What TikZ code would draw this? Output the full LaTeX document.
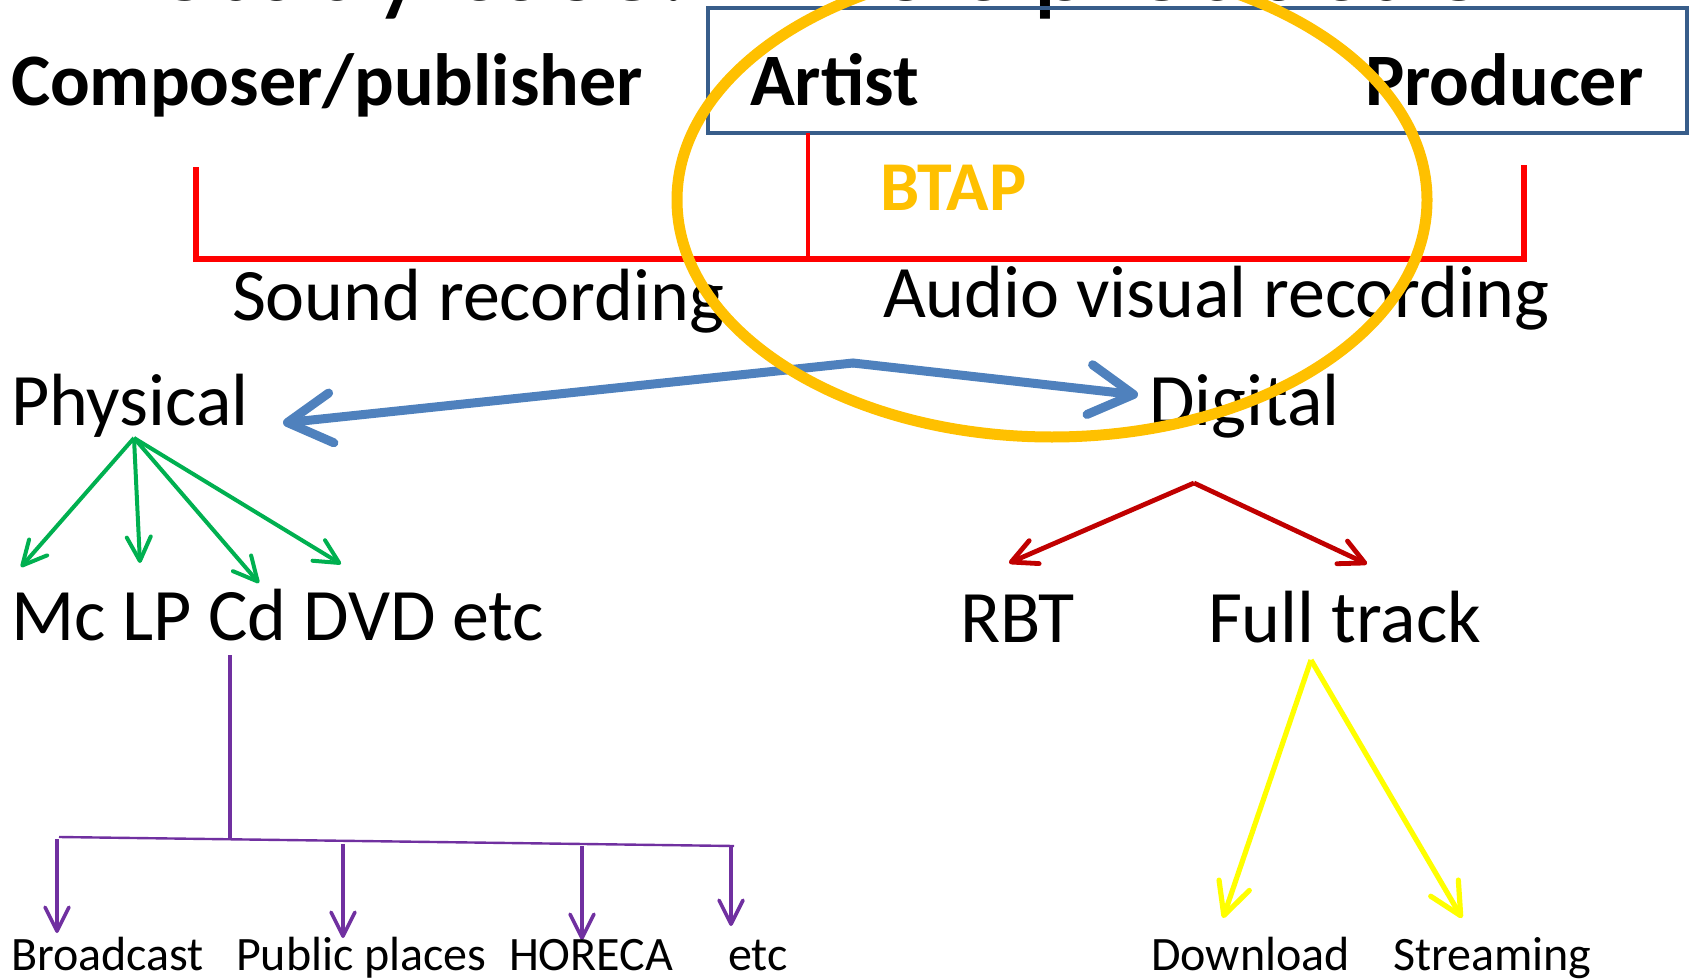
\documentclass[tikz,border=0pt]{standalone}
\usepackage{fontspec}
\setmainfont{Carlito}
\usetikzlibrary{arrows.meta}

\definecolor{boxblue}{HTML}{385D8A}
\definecolor{brred}{HTML}{FF0000}
\definecolor{flowblue}{HTML}{4F81BD}
\definecolor{phgreen}{HTML}{00B050}
\definecolor{usepurple}{HTML}{7030A0}
\definecolor{digred}{HTML}{C00000}
\definecolor{trkyellow}{HTML}{FFFF00}
\definecolor{ringorange}{HTML}{FFC000}

\tikzset{
  lbl/.style={anchor=base west, inner sep=0pt, outer sep=0pt},
  bigtxt/.style={lbl, font=\fontsize{37}{44}\selectfont},
  bigbold/.style={lbl, font=\fontsize{37}{44}\selectfont\bfseries},
  smalltxt/.style={lbl, font=\fontsize{24}{29}\selectfont},
  barb/.style={-{Straight Barb[length=#1, width=#1, round]}},
  flowarrow/.style={draw=flowblue, line width=4.5pt, line cap=round,
     -{Straight Barb[length=22pt, width=25pt, round]}},
  greenarrow/.style={draw=phgreen, line width=2pt, barb=12pt},
  purplearrow/.style={draw=usepurple, line width=1.8pt, barb=12pt},
  redarrow/.style={draw=digred, line width=2.4pt, barb=12.5pt},
  yellowarrow/.style={draw=trkyellow, line width=2.6pt,
     -{Straight Barb[length=16pt, width=16pt, round]}},
}

\begin{document}
\begin{tikzpicture}[x=0.5pt, y=-0.5pt]
\useasboundingbox (0,0) rectangle (1692,979);

% heading, mostly above the page edge
\node[anchor=base, inner sep=0pt, font=\fontsize{58}{67}\selectfont]
  (title) at (855,1) {Study case: Music production};

% right-holders frame
\draw[boxblue, line width=2pt] (708,8) rectangle (1687,133);

% right-holders
\node[bigbold] (composer) at (11,105) {Composer/publisher};
\node[bigbold] (artist) at (750,105) {Artist};
\node[bigbold] (producer) at (1365,105) {Producer};
\node[lbl, font=\fontsize{35}{42}\selectfont\bfseries, text=ringorange]
  (btap) at (880,210) {BTAP};

% bracket joining the holders to the recordings
\coordinate (brL) at (196,167);
\coordinate (brLb) at (196,259);
\coordinate (brRb) at (1524,259);
\coordinate (brR) at (1524,165);
\coordinate (brMt) at (808,133);
\coordinate (brMb) at (808,259);
\draw[brred, line width=2.6pt] (brL) -- (brLb) -- (brRb) -- (brR);
\draw[brred, line width=1.8pt] (brMt) -- (brMb);

\node[bigtxt] (sound) at (232,320) {Sound recording};
\node[bigtxt] (audio) at (883,317) {Audio visual recording};

% physical / digital split
\node[bigtxt] (physical) at (11,425) {Physical};
\node[bigtxt] (digital) at (1149,425) {Digital};
\coordinate (split) at (853,363);
\coordinate (physTip) at (283,423);
\coordinate (digTip) at (1138,395);
\draw[flowarrow] (split) -- (physTip);
\draw[flowarrow] (split) -- (digTip);

% physical carriers
\coordinate (phSrc) at (134,438);
\coordinate (mcTip) at (21,567);
\coordinate (lpTip) at (140,563);
\coordinate (cdTip) at (259,583);
\coordinate (dvdTip) at (341,564);
\draw[greenarrow] (phSrc) -- (mcTip);
\draw[greenarrow] (phSrc) -- (lpTip);
\draw[greenarrow] (phSrc) -- (cdTip);
\draw[greenarrow] (phSrc) -- (dvdTip);
\node[bigtxt] (media) at (11,640) {Mc LP Cd DVD etc};

% uses of physical carriers
\coordinate (useTop) at (230,655);
\coordinate (useMid) at (230,838);
\coordinate (railL) at (59,837);
\coordinate (railR) at (734,846);
\draw[usepurple, line width=1.8pt] (useTop) -- (useMid);
\draw[usepurple, line width=1.2pt] (railL) -- (railR);
\coordinate (bcTop) at (57,839);   \coordinate (bcTip) at (57,933);
\coordinate (ppTop) at (343,844);  \coordinate (ppTip) at (343,938);
\coordinate (hoTop) at (582,846);  \coordinate (hoTip) at (582,940);
\coordinate (etTop) at (731,847);  \coordinate (etTip) at (731,926);
\draw[purplearrow] (bcTop) -- (bcTip);
\draw[purplearrow] (ppTop) -- (ppTip);
\draw[purplearrow] (hoTop) -- (hoTip);
\draw[purplearrow] (etTop) -- (etTip);
\node[smalltxt] (broadcast) at (11,970) {Broadcast};
\node[smalltxt] (public) at (236,970) {Public places};
\node[smalltxt] (horeca) at (509,970) {HORECA};
\node[smalltxt] (etc) at (728,970) {etc};

% digital products
\coordinate (digSrc) at (1194,483);
\coordinate (rbtTip) at (1009,563);
\coordinate (fullTip) at (1367,564);
\draw[redarrow] (digSrc) -- (rbtTip);
\draw[redarrow] (digSrc) -- (fullTip);
\node[bigtxt] (rbt) at (960,642) {RBT};
\node[bigtxt] (full) at (1208,642) {Full track};

% full-track delivery
\coordinate (ftSrc) at (1311,660);
\coordinate (dlTip) at (1223,918);
\coordinate (stTip) at (1462,918);
\draw[yellowarrow] (ftSrc) -- (dlTip);
\draw[yellowarrow] (ftSrc) -- (stTip);
\node[smalltxt] (download) at (1151,970) {Download};
\node[smalltxt] (streaming) at (1393,970) {Streaming};

% highlight ring around the artist / producer / BTAP area
\draw[ringorange, line width=5.5pt] (1052,200) ellipse [x radius=187.5pt, y radius=118.5pt];
\end{tikzpicture}
\end{document}
